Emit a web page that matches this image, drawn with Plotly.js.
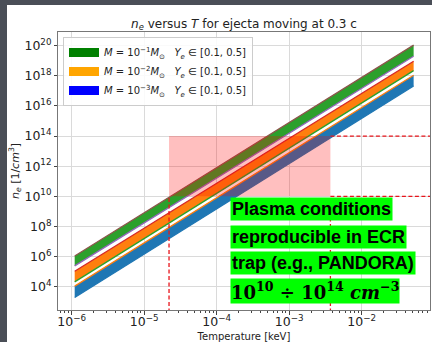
<!DOCTYPE html>
<html>
<head>
<meta charset="utf-8">
<script src="https://cdn.plot.ly/plotly-3.0.1.min.js"></script>
<style>
  html, body { margin: 0; padding: 0; background: #4a4e57; width: 432px; height: 342px; overflow: hidden; }
  #wrap { position: absolute; left: 7px; top: 5px; width: 425px; height: 337px; background: #ffffff; }
  #chart { width: 425px; height: 337px; }
</style>
</head>
<body>
<div id="wrap"><div id="chart"></div></div>
<script>
// Temperature endpoints of the bands [keV]
const T = [1.1e-6, 5.2e-2];
// n_e boundaries [1/cm^3] at the two temperatures
const m1Upper = [1.1e6, 1.1e20];   // M = 1e-1 Msun, Ye = 0.5
const m1Lower = [2.4e5, 2.0e19];   // M = 1e-1 Msun, Ye = 0.1
const m2Upper = [1.07e5, 9.3e18];  // M = 1e-2 Msun, Ye = 0.5
const m2Lower = [2.1e4, 2.2e18];   // M = 1e-2 Msun, Ye = 0.1
const m3Upper = [1.1e4, 1.1e18];   // M = 1e-3 Msun, Ye = 0.5
const m3Lower = [1.9e3, 2.1e17];   // M = 1e-3 Msun, Ye = 0.1

// ECR trap region
const regionT = [2.2e-5, 3.7e-3];
const regionNe = [1e10, 1e14];

const legendNames = [
  '<i>M</i> = 10<sup>−1</sup><i>M</i><sub>⊙</sub>\u00a0\u00a0\u00a0<i>Y<sub>e</sub></i> ∈ [0.1, 0.5]',
  '<i>M</i> = 10<sup>−2</sup><i>M</i><sub>⊙</sub>\u00a0\u00a0\u00a0<i>Y<sub>e</sub></i> ∈ [0.1, 0.5]',
  '<i>M</i> = 10<sup>−3</sup><i>M</i><sub>⊙</sub>\u00a0\u00a0\u00a0<i>Y<sub>e</sub></i> ∈ [0.1, 0.5]'
];
const legendColors = ['#008000', '#ffa500', '#0000ff'];

const bands = [
  {up: m1Upper, lo: m1Lower, fill: '#2ca02c', upLine: '#8c564b', loLine: '#9467bd'},
  {up: m2Upper, lo: m2Lower, fill: '#ff7f0e', upLine: '#d62728', loLine: '#2ca02c'},
  {up: m3Upper, lo: m3Lower, fill: '#1f77b4', upLine: '#ff7f0e', loLine: '#1f77b4'}
];

const traces = [];
bands.slice().reverse().forEach(b => {
  traces.push({x: T, y: b.up, mode: 'lines', line: {width: 0}, showlegend: false, hoverinfo: 'skip'});
  traces.push({x: T, y: b.lo, mode: 'lines', line: {width: 0}, fill: 'tonexty', fillcolor: b.fill, showlegend: false, hoverinfo: 'skip'});
});
bands.slice().reverse().forEach(b => {
  traces.push({x: T, y: b.lo, mode: 'lines', line: {width: 1.3, color: b.loLine}, showlegend: false, hoverinfo: 'skip'});
  traces.push({x: T, y: b.up, mode: 'lines', line: {width: 1.3, color: b.upLine}, showlegend: false, hoverinfo: 'skip'});
});
legendNames.forEach((n, i) => {
  traces.push({x: [null], y: [null], mode: 'lines', name: n, line: {width: 9, color: legendColors[i]}, showlegend: true});
});

const dash = {color: '#e8141b', width: 1.3, dash: '4px,2.5px'};
const shapes = [
  {type: 'rect', xref: 'x', yref: 'y', x0: regionT[0], x1: regionT[1], y0: regionNe[0], y1: regionNe[1],
   fillcolor: 'rgba(255,0,0,0.25)', line: {width: 0}, layer: 'above'},
  {type: 'line', xref: 'x', yref: 'y', x0: regionT[0], x1: regionT[0], y0: 1e1, y1: regionNe[0], line: dash},
  {type: 'line', xref: 'x', yref: 'y', x0: regionT[1], x1: regionT[1], y0: 1e1, y1: regionNe[0], line: dash},
  {type: 'line', xref: 'x', yref: 'y', x0: regionT[1], x1: 1, y0: regionNe[0], y1: regionNe[0], line: dash},
  {type: 'line', xref: 'x', yref: 'y', x0: regionT[1], x1: 1, y0: regionNe[1], y1: regionNe[1], line: dash}
];

const boxLines = [
  'Plasma conditions',
  'reproducible in ECR',
  'trap (e.g., PANDORA)'
];
const boxTops = [0.405, 0.307, 0.214];
const annotations = boxLines.map((t, i) => ({
  xref: 'paper', yref: 'paper', x: 0.462, y: boxTops[i], xanchor: 'left', yanchor: 'top',
  text: '<b>' + t + '</b>', showarrow: false, bgcolor: '#00ff00', borderpad: 1, align: 'left',
  font: {family: 'Liberation Sans, Arial, sans-serif', size: 18, color: '#000000'}
}));
annotations.push({
  xref: 'paper', yref: 'paper', x: 0.462, y: 0.116, xanchor: 'left', yanchor: 'top',
  text: '<b>10<sup>10</sup> ÷ 10<sup>14</sup> <i>cm</i><sup>−3</sup></b>', showarrow: false, bgcolor: '#00ff00', borderpad: 0,
  font: {family: 'DejaVu Serif, Liberation Serif, serif', size: 18, color: '#000000'}
});

const axisFont = {family: 'DejaVu Sans, sans-serif', size: 10, color: '#222'};
const layout = {
  width: 425, height: 337,
  margin: {l: 51, r: 2, t: 27, b: 32},
  paper_bgcolor: '#ffffff', plot_bgcolor: '#ffffff',
  title: {text: '<i>n</i><sub><i>e</i></sub> versus <i>T</i> for ejecta moving at 0.3 c',
          font: {family: 'DejaVu Sans, sans-serif', size: 12, color: '#222'},
          x: 0.5, xref: 'paper', y: 0.945, yref: 'container', yanchor: 'middle'},
  xaxis: {type: 'log', range: [-6.189, -1.058], dtick: 1, exponentformat: 'power',
          showgrid: true, gridcolor: '#dadada', gridwidth: 1,
          ticks: 'outside', ticklen: 3.5, tickcolor: '#444', tickwidth: 1, ticklabelstandoff: -3,
          minor: {ticks: 'outside', ticklen: 2, tickcolor: '#444', dtick: 'D1', showgrid: false},
          showline: true, linecolor: '#777', linewidth: 1, mirror: true, zeroline: false,
          tickfont: axisFont,
          title: {text: 'Temperature [keV]', font: axisFont, standoff: 4}},
  yaxis: {type: 'log', range: [2.453, 20.91], dtick: 2, exponentformat: 'power',
          showgrid: true, gridcolor: '#dadada', gridwidth: 1,
          ticks: 'outside', ticklen: 3.5, tickcolor: '#444', tickwidth: 1,
          showline: true, linecolor: '#777', linewidth: 1, mirror: true, zeroline: false,
          tickfont: axisFont,
          title: {text: '<i>n</i><sub><i>e</i></sub> [1/<i>cm</i><sup>3</sup>]',
                  font: {family: 'DejaVu Sans, sans-serif', size: 11, color: '#222'}, standoff: 3}},
  legend: {x: 0.0134, y: 0.982, xanchor: 'left', yanchor: 'top', traceorder: 'normal',
           bgcolor: 'rgba(255,255,255,0.85)', bordercolor: '#cccccc', borderwidth: 1,
           font: {family: 'DejaVu Sans, sans-serif', size: 10, color: '#222'}, tracegroupgap: 0},
  shapes: shapes,
  annotations: annotations,
  showlegend: true
};

Plotly.newPlot('chart', traces, layout, {staticPlot: true, displayModeBar: false});
</script>
</body>
</html>
